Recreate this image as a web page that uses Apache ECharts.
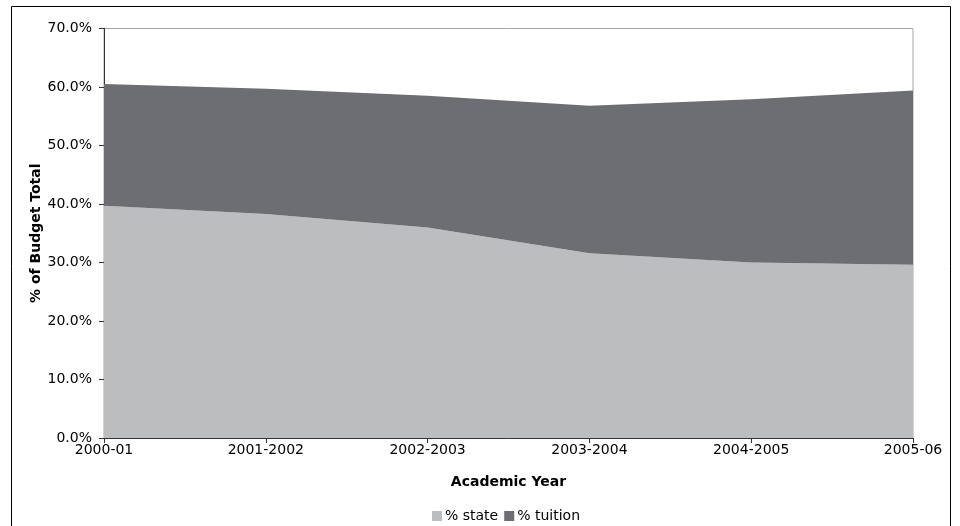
<!DOCTYPE html>
<html>
<head>
<meta charset="utf-8">
<title>Share of Budget Total by Academic Year</title>
<script src="https://cdn.jsdelivr.net/npm/echarts@6/dist/echarts.min.js"></script>
<style>
  html, body { margin: 0; padding: 0; background: #ffffff; }
  #chart { width: 960px; height: 526px; }
</style>
</head>
<body>
<div id="chart"></div>
<script>
// Academic years on the horizontal axis
const years = ['2000-01', '2001-2002', '2002-2003', '2003-2004', '2004-2005', '2005-06'];

// Share of the budget from state funding (percent)
const stateShare = [39.7, 38.3, 36.0, 31.6, 30.0, 29.6];

// Share of the budget from tuition (percent), stacked on top of state
const tuitionShare = [20.8, 21.4, 22.5, 25.2, 27.9, 29.8];

// Value-axis range and step (percent)
const yMin = 0;
const yMax = 70;
const yStep = 10;

const fontFamily = 'Verdana, "DejaVu Sans", sans-serif';
const axisColor = '#333333';

const chart = echarts.init(document.getElementById('chart'), null, { renderer: 'canvas' });

chart.setOption({
  animation: false,
  backgroundColor: '#ffffff',
  textStyle: { fontFamily: fontFamily },
  graphic: [{
    type: 'rect',
    silent: true,
    shape: { x: 11.5, y: 6.5, width: 939, height: 530 },
    style: { fill: 'none', stroke: '#000000', lineWidth: 1 }
  }],
  grid: {
    left: 104,
    right: 47,
    top: 28.5,
    bottom: 88,
    show: true,
    borderColor: '#a6a6a6',
    borderWidth: 1,
    backgroundColor: 'transparent'
  },
  legend: {
    bottom: -2,
    left: 427,
    icon: 'rect',
    itemWidth: 10,
    itemHeight: 10,
    itemGap: 6,
    textStyle: { fontSize: 14, color: '#000000', fontFamily: fontFamily, padding: [0, 0, 0, -2] },
    data: ['% state', '% tuition']
  },
  xAxis: {
    type: 'category',
    data: years,
    boundaryGap: false,
    name: 'Academic Year',
    nameLocation: 'middle',
    nameGap: 37,
    nameMoveOverlap: false,
    nameTextStyle: { fontSize: 14, fontWeight: 'bold', color: '#000000', fontFamily: fontFamily },
    axisLine: { show: true, lineStyle: { color: axisColor, width: 1 } },
    axisTick: { show: true, alignWithLabel: true, length: 5, lineStyle: { color: axisColor } },
    axisLabel: { fontSize: 14, color: '#000000', margin: 5, fontFamily: fontFamily },
    splitLine: { show: false }
  },
  yAxis: {
    type: 'value',
    min: yMin,
    max: yMax,
    interval: yStep,
    name: '% of Budget Total',
    nameLocation: 'middle',
    nameGap: 61,
    nameMoveOverlap: false,
    nameTextStyle: { fontSize: 14, fontWeight: 'bold', color: '#000000', fontFamily: fontFamily },
    axisLine: { show: true, lineStyle: { color: axisColor, width: 1 } },
    axisTick: { show: true, length: 5, lineStyle: { color: axisColor } },
    axisLabel: {
      fontSize: 14,
      color: '#000000',
      margin: 12,
      fontFamily: fontFamily,
      formatter: function (v) { return v.toFixed(1) + '%'; }
    },
    splitLine: { show: false }
  },
  series: [
    {
      name: '% state',
      type: 'line',
      stack: 'budget',
      data: stateShare,
      showSymbol: false,
      symbol: 'none',
      lineStyle: { width: 0 },
      itemStyle: { color: '#bcbdbf' },
      areaStyle: { color: '#bcbdbf', opacity: 1 },
      z: 1
    },
    {
      name: '% tuition',
      type: 'line',
      stack: 'budget',
      data: tuitionShare,
      showSymbol: false,
      symbol: 'none',
      lineStyle: { width: 0 },
      itemStyle: { color: '#6d6e72' },
      areaStyle: { color: '#6d6e72', opacity: 1 },
      z: 1
    }
  ]
});
</script>
</body>
</html>
